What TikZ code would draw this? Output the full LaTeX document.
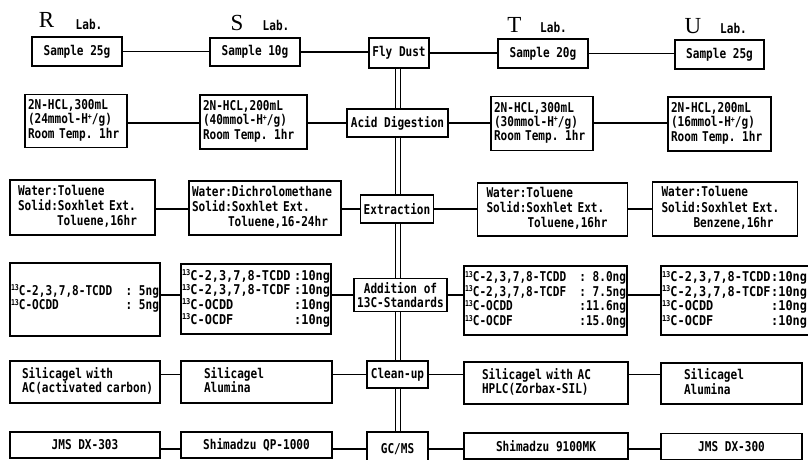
\documentclass[tikz,border=0pt]{standalone}
\usepackage{fontspec}
\setmainfont{Liberation Serif}
\newfontfamily\tf[FakeStretch=0.82]{DejaVu Sans Mono}
\newfontfamily\tfw[FakeStretch=0.88]{DejaVu Sans Mono}
\newcommand\isot{\raisebox{4.5pt}{\fontsize{8}{8}\selectfont 13}}
\newcommand\hplus{H\raisebox{4.5pt}{\fontsize{8}{8}\selectfont +}}
\newcommand\Ltab[2]{\hspace*{#1}\begin{tabular}{@{}l@{}}#2\end{tabular}}
\tikzset{
  box/.style={draw, line width=1.3pt, inner xsep=1pt, inner ysep=0pt,
    font=\tf\bfseries\fontsize{13.5}{14}\selectfont},
  cbox/.style={box, align=center},
  lbox/.style={box, align=left, font=\tf\bfseries\fontsize{13.5}{#1}\selectfont},
  wbox/.style={box, align=left, font=\tfw\bfseries\fontsize{13.5}{#1}\selectfont},
  conn/.style={line width=1.1pt},
  spinel/.style={double, double distance=4.6pt, line width=1.1pt},
  biglet/.style={font=\fontsize{23}{23}\selectfont, inner sep=0pt},
  labtxt/.style={font=\tf\bfseries\fontsize{13.5}{14}\selectfont, inner sep=0pt},
}
\begin{document}
\begin{tikzpicture}[x=1pt,y=-1pt]
\useasboundingbox (0,0) rectangle (808,460);
% lab labels
\node[biglet] (rL) at (46.5,19.5) {R};
\node[labtxt] (rLab) at (89,24) {Lab.};
\node[biglet] (sL) at (237,23) {S};
\node[labtxt] (sLab) at (276,25.5) {Lab.};
\node[biglet] (tL) at (514.5,25) {T};
\node[labtxt] (tLab) at (553.5,27) {Lab.};
\node[biglet] (uL) at (693,26.5) {U};
\node[labtxt] (uLab) at (733.5,28.5) {Lab.};
% row 1
\node[cbox, minimum width=90pt, minimum height=29pt] (r1) at (77,51.5) {Sample 25g};
\node[cbox, minimum width=90pt, minimum height=28pt] (s1) at (255,52) {Sample 10g};
\node[cbox, minimum width=60pt, minimum height=30pt] (fly) at (399,53) {Fly Dust};
\node[cbox, minimum width=90pt, minimum height=29pt] (t1) at (543,53.5) {Sample 20g};
\node[cbox, minimum width=89pt, minimum height=29pt] (u1) at (719.5,54.5) {Sample 25g};
% row 2
\node[lbox=13.7, text width=100pt, minimum height=53pt] (r2) at (76,121)
  {\Ltab{2pt}{2N-HCL,300mL\\(24mmol-\hplus/g)\\Room Temp. 1hr}};
\node[lbox=13.7, text width=105pt, minimum height=54pt] (s2) at (253.5,122)
  {\Ltab{2pt}{2N-HCL,200mL\\(40mmol-\hplus/g)\\Room Temp. 1hr}};
\node[cbox, minimum width=101pt, minimum height=28pt] (acid) at (397.5,123) {Acid Digestion};
\node[lbox=13.7, text width=100pt, minimum height=54pt] (t2) at (542,123.5)
  {\Ltab{2pt}{2N-HCL,300mL\\(30mmol-\hplus/g)\\Room Temp. 1hr}};
\node[lbox=13.7, text width=101pt, minimum height=54pt] (u2) at (719.5,124)
  {\Ltab{2pt}{2N-HCL,200mL\\(16mmol-\hplus/g)\\Room Temp. 1hr}};
% row 3
\node[lbox=15, text width=143pt, minimum height=55pt] (r3) at (82.5,207.5)
  {\Ltab{7pt}{Water:Toluene\\Solid:Soxhlet Ext.\\\hspace*{39pt}Toluene,16hr}};
\node[lbox=15, text width=150pt, minimum height=54pt] (s3) at (265,208)
  {\Ltab{2pt}{Water:Dichrolomethane\\Solid:Soxhlet Ext.\\\hspace*{36pt}Toluene,16-24hr}};
\node[cbox, minimum width=73pt, minimum height=28pt] (ext) at (397,209) {Extraction};
\node[lbox=15, text width=148pt, minimum height=53pt] (t3) at (552.5,209.5)
  {\Ltab{8pt}{Water:Toluene\\Solid:Soxhlet Ext.\\\hspace*{41pt}Toluene,16hr}};
\node[lbox=15, text width=143pt, minimum height=54pt] (u3) at (725,209)
  {\Ltab{8pt}{Water:Toluene\\Solid:Soxhlet Ext.\\\hspace*{32pt}Benzene,16hr}};
% row 4
\node[lbox=14, text width=148pt, minimum height=73pt] (r4) at (85,299.5)
  {\begin{tabular*}{\linewidth}{@{}l@{\extracolsep{\fill}}r@{}}
   \isot C-2,3,7,8-TCDD & : 5ng\\
   \isot C-OCDD & : 5ng
   \end{tabular*}};
\node[wbox=14, text width=148pt, minimum height=70pt] (s4) at (256,299)
  {\begin{tabular*}{\linewidth}{@{}l@{\extracolsep{\fill}}r@{}}
   \isot C-2,3,7,8-TCDD & :10ng\\
   \isot C-2,3,7,8-TCDF & :10ng\\
   \isot C-OCDD & :10ng\\
   \isot C-OCDF & :10ng
   \end{tabular*}};
\node[cbox, minimum width=93pt, minimum height=33pt] (add) at (400.5,295)
  {Addition of\\13C-Standards};
\node[lbox=14, text width=161pt, minimum height=69pt] (t4) at (545.5,300.5)
  {\begin{tabular*}{\linewidth}{@{}l@{\extracolsep{\fill}}r@{}}
   \isot C-2,3,7,8-TCDD & : 8.0ng\\
   \isot C-2,3,7,8-TCDF & : 7.5ng\\
   \isot C-OCDD & :11.6ng\\
   \isot C-OCDF & :15.0ng
   \end{tabular*}};
\node[wbox=14, text width=148pt, minimum height=69pt] (u4) at (736,300.5)
  {\begin{tabular*}{\dimexpr\linewidth-3pt}{@{}l@{\extracolsep{\fill}}r@{}}
   \isot C-2,3,7,8-TCDD & :10ng\\
   \isot C-2,3,7,8-TCDF & :10ng\\
   \isot C-OCDD & :10ng\\
   \isot C-OCDF & :10ng
   \end{tabular*}};
% row 5
\node[lbox=13, text width=148pt, minimum height=42pt] (r5) at (85,382)
  {\Ltab{11pt}{Silicagel with\\AC(activated carbon)}};
\node[lbox=13, text width=149pt, minimum height=42pt] (s5) at (256.5,382)
  {\Ltab{22pt}{Silicagel\\Alumina}};
\node[cbox, minimum width=61pt, minimum height=27pt] (clean) at (397.5,374.5) {Clean-up};
\node[lbox=13, text width=162pt, minimum height=42pt] (t5) at (546,383)
  {\Ltab{17pt}{Silicagel with AC\\HPLC(Zorbax-SIL)}};
\node[lbox=13, text width=139pt, minimum height=41pt] (u5) at (731.5,383.5)
  {\Ltab{22pt}{Silicagel\\Alumina}};
% row 6
\node[cbox, minimum width=150pt, minimum height=26pt] (r6) at (85,445) {JMS DX-303};
\node[cbox, minimum width=151pt, minimum height=26pt] (s6) at (256.5,445) {Shimadzu QP-1000};
\node[cbox, minimum width=61pt, minimum height=34pt] (gcms) at (397.5,449) {GC/MS};
\node[cbox, minimum width=164pt, minimum height=26pt] (t6) at (546,446) {Shimadzu 9100MK};
\node[cbox, minimum width=141pt, minimum height=26pt] (u6) at (731.5,446.5) {JMS DX-300};
% spine
\coordinate (spine) at (398,0);
\draw[spinel] (fly.south -| spine) -- (acid.north -| spine);
\draw[spinel] (acid.south -| spine) -- (ext.north -| spine);
\draw[spinel] (ext.south -| spine) -- (add.north -| spine);
\draw[spinel] (add.south -| spine) -- (clean.north -| spine);
\draw[spinel] (clean.south -| spine) -- (gcms.north -| spine);
% row connectors
\draw[conn] (r1.east) -- (r1.east -| s1.west);
\draw[conn] (s1.east) -- (s1.east -| fly.west);
\draw[conn] (fly.east) -- (fly.east -| t1.west);
\draw[conn] (t1.east) -- (t1.east -| u1.west);
\foreach \a/\b/\c/\d/\m in {r2/s2/t2/u2/acid, r3/s3/t3/u3/ext, r4/s4/t4/u4/add, r5/s5/t5/u5/clean, r6/s6/t6/u6/gcms}{
  \draw[conn] (\a.east |- \m) -- (\b.west |- \m);
  \draw[conn] (\b.east |- \m) -- (\m.west);
  \draw[conn] (\m.east) -- (\c.west |- \m);
  \draw[conn] (\c.east |- \m) -- (\d.west |- \m);
}
\end{tikzpicture}
\end{document}
